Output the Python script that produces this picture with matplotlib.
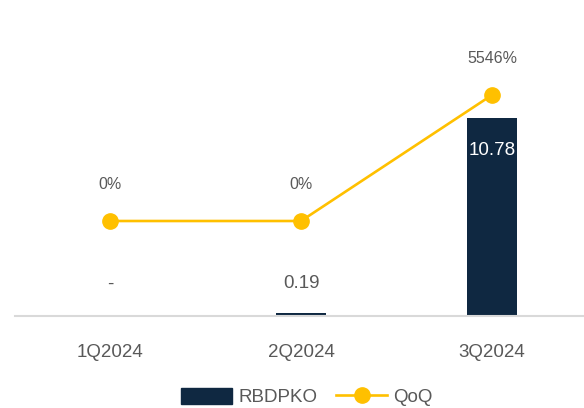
import matplotlib
matplotlib.use("Agg")
import matplotlib.pyplot as plt
from matplotlib.lines import Line2D
from matplotlib.patches import Patch

categories = ["1Q2024", "2Q2024", "3Q2024"]
rbdpko = [0.0, 0.19, 10.78]
rbdpko_labels = ["-", "0.19", "10.78"]
qoq = [0, 0, 5546]
qoq_labels = ["0%", "0%", "5546%"]

BAR = "#0F2841"
LINE = "#FFC000"
TXT = "#595959"

plt.rcParams["font.family"] = ["Liberation Sans", "DejaVu Sans"]

fig = plt.figure(figsize=(5.84, 4.08), dpi=100)
ax = fig.add_axes([14.5 / 584, (408 - 316) / 408, 573 / 584, 296 / 408])
x = list(range(len(categories)))
ax.bar(x, rbdpko, width=0.26, color=BAR, zorder=2)
ax.set_xlim(-0.5, 2.5)
ax.set_ylim(0, 16.12)
for s in ["top", "left", "right"]:
    ax.spines[s].set_visible(False)
ax.spines["bottom"].set_color("#D9D9D9")
ax.spines["bottom"].set_linewidth(1.5)
ax.set_yticks([])
ax.set_xticks(x)
ax.set_xticklabels(categories, fontsize=13.5, color=TXT)
ax.tick_params(axis="x", length=0, pad=20)

for i, (v, lab) in enumerate(zip(rbdpko, rbdpko_labels)):
    if v > 5:
        ax.annotate(lab, (i, v), xytext=(0, -32), textcoords="offset pixels",
                    ha="center", va="center", fontsize=13.5, color="white", zorder=5)
    else:
        ax.annotate(lab, (i, 0), xytext=(0, 32), textcoords="offset pixels",
                    ha="center", va="center", fontsize=13.5, color=TXT)

ax2 = ax.twinx()
ax2.plot(x, qoq, color=LINE, lw=1.9, marker="o", markersize=11, zorder=3)
ax2.set_ylim(-4181, 8846)
ax2.axis("off")
for i, (v, lab) in enumerate(zip(qoq, qoq_labels)):
    ax2.annotate(lab, (i, v), xytext=(0, 36), textcoords="offset pixels",
                 ha="center", va="center", fontsize=11.5, color=TXT)

handles = [Patch(facecolor=BAR, edgecolor=BAR),
           Line2D([0], [0], color=LINE, lw=1.9, marker="o", markersize=11)]
fig.legend(handles, ["RBDPKO", "QoQ"], loc="center", bbox_to_anchor=(307 / 584, (408 - 397) / 408),
           ncol=2, frameon=False, fontsize=13.5, labelcolor=TXT, handlelength=2.72,
           handleheight=0.95, columnspacing=1.0, handletextpad=0.32)

fig.savefig("out.png", dpi=100)
